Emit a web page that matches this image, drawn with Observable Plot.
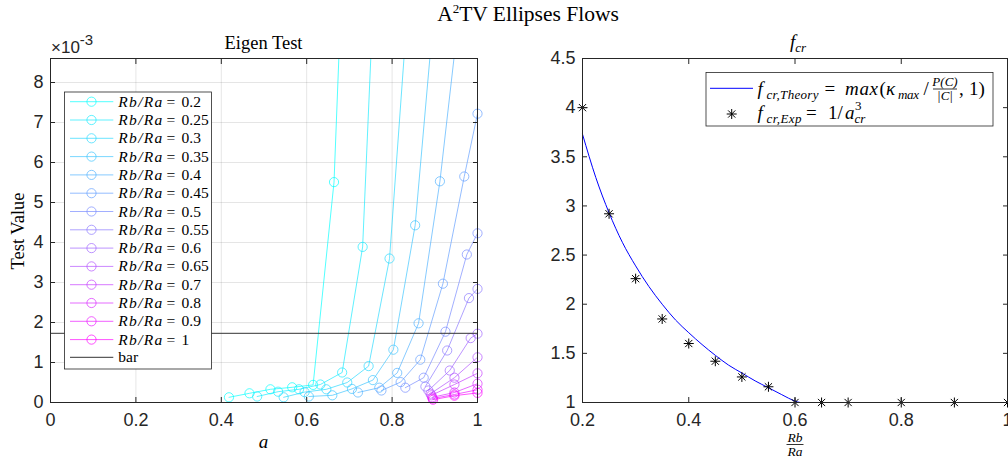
<!DOCTYPE html>
<html><head><meta charset="utf-8">
<script src="https://cdn.jsdelivr.net/npm/d3@7"></script>
<script src="https://cdn.jsdelivr.net/npm/@observablehq/plot@0.6"></script>
<style>
html,body{margin:0;padding:0;background:#fff;}
#fig{position:relative;width:1008px;height:463px;overflow:hidden;background:#fff;}
#fig > svg{position:absolute;top:0;}
#overlay{position:absolute;left:0;top:0;pointer-events:none;}
</style></head><body><div id="fig"></div>
<script>
// ---------- Left panel data (Eigen Test), values in units of 1e-3 ----------
const ratios = [0.2, 0.25, 0.3, 0.35, 0.4, 0.45, 0.5, 0.55, 0.6, 0.65, 0.7, 0.8, 0.9, 1];
const ratioLabels = ["0.2","0.25","0.3","0.35","0.4","0.45","0.5","0.55","0.6","0.65","0.7","0.8","0.9","1"];
const aValues = [
  [0.418, 0.466, 0.515, 0.566, 0.615, 0.664, 0.713],
  [0.484, 0.533, 0.582, 0.632, 0.683, 0.731, 0.780],
  [0.546, 0.595, 0.646, 0.695, 0.745, 0.794, 0.844],
  [0.605, 0.660, 0.706, 0.755, 0.803, 0.854, 0.904],
  [0.720, 0.770, 0.812, 0.862, 0.912, 0.962],
  [0.775, 0.820, 0.866, 0.919, 0.969, 1.000],
  [0.831, 0.874, 0.925, 0.975, 1.000],
  [0.878, 0.929, 0.980, 1.000],
  [0.885, 0.935, 0.984, 1.000],
  [0.890, 0.946, 1.000],
  [0.892, 0.946, 1.000],
  [0.894, 0.946, 1.000],
  [0.895, 0.946, 1.000],
  [0.896, 0.946, 1.000]
];
const testValuesE3 = [
  [0.13, 0.23, 0.33, 0.38, 0.44, 5.51, 19],
  [0.15, 0.27, 0.33, 0.45, 0.75, 3.89, 16],
  [0.13, 0.26, 0.33, 0.50, 0.91, 3.60, 11],
  [0.15, 0.18, 0.34, 0.56, 1.32, 4.43, 10.5],
  [0.25, 0.37, 0.74, 1.98, 5.53, 10.2],
  [0.30, 0.51, 1.07, 2.97, 5.65, 7.22],
  [0.37, 0.62, 1.77, 3.70, 4.23],
  [0.40, 1.30, 2.61, 2.84],
  [0.30, 0.80, 1.61, 1.72],
  [0.22, 0.62, 1.13],
  [0.18, 0.45, 0.73],
  [0.13, 0.25, 0.47],
  [0.10, 0.20, 0.32],
  [0.07, 0.17, 0.24]
];
const barValueE3 = 1.73;
const xTicksLeft = [0, 0.2, 0.4, 0.6, 0.8, 1];
const yTicksLeft = [0, 1, 2, 3, 4, 5, 6, 7, 8];

// ---------- Right panel data (f_cr) ----------
const rbRa = [0.2, 0.25, 0.3, 0.35, 0.4, 0.45, 0.5, 0.55, 0.6, 0.65, 0.7, 0.8, 0.9, 1];
const fExp = [4.0, 2.92, 2.26, 1.85, 1.60, 1.42, 1.26, 1.16, 1.0, 1.0, 1.0, 1.0, 1.0, 1.0];
const theoryRbRa = [0.2, 0.225, 0.25, 0.275, 0.3, 0.325, 0.35, 0.375, 0.4, 0.425, 0.45, 0.475, 0.5, 0.525, 0.55, 0.575, 0.6, 0.61, 0.7, 0.8, 0.9, 1];
const theoryF   = [3.73, 3.29, 2.93, 2.63, 2.39, 2.18, 2.00, 1.84, 1.71, 1.59, 1.48, 1.38, 1.30, 1.22, 1.15, 1.08, 1.015, 1.0, 1.0, 1.0, 1.0, 1.0];
const xTicksRight = [0.2, 0.4, 0.6, 0.8, 1];
const yTicksRight = [1, 1.5, 2, 2.5, 3, 3.5, 4, 4.5];

// ---------- styling ----------
const AX = "#262626";
const seriesColor = ratios.map((_, i) => {
  const t = i / (ratios.length - 1);
  return `rgb(${Math.round(255 * t)},${Math.round(255 * (1 - t))},255)`;
});
const SERIES_OPACITY = 0.68;
const fmt = d3.format("~g");
const plotStyle = {fontFamily: "'Liberation Sans', Arial, sans-serif", fontSize: "18px", color: AX, background: "none", overflow: "visible"};

const leftRows = ratios.flatMap((r, i) => aValues[i].map((a, j) => ({series: i, a, v: testValuesE3[i][j]})));

const left = Plot.plot({
  width: 500, height: 463,
  marginLeft: 50, marginRight: 23, marginTop: 58, marginBottom: 61,
  x: {domain: [0, 1]},
  y: {domain: [0, 8.6]},
  color: {type: "identity"},
  style: plotStyle,
  marks: [
    Plot.gridX(xTicksLeft, {stroke: "#000", strokeOpacity: 0.1}),
    Plot.gridY(yTicksLeft, {stroke: "#000", strokeOpacity: 0.1}),
    Plot.line(leftRows, {x: "a", y: "v", z: "series", stroke: d => seriesColor[d.series], strokeOpacity: SERIES_OPACITY, strokeWidth: 1, clip: true}),
    Plot.dot(leftRows, {x: "a", y: "v", r: 4.6, fill: "none", stroke: d => seriesColor[d.series], strokeOpacity: SERIES_OPACITY, strokeWidth: 1, filter: d => d.v <= 8.6}),
    Plot.ruleY([barValueE3], {stroke: "#333", strokeWidth: 1}),
    Plot.frame({stroke: AX, strokeWidth: 1}),
    Plot.axisX({ticks: xTicksLeft, anchor: "bottom", tickSize: 0, tickPadding: 11, tickFormat: fmt, label: null, fill: AX}),
    Plot.axisX({ticks: xTicksLeft, anchor: "bottom", tickSize: -5, tickFormat: () => "", label: null}),
    Plot.axisX({ticks: xTicksLeft, anchor: "top", tickSize: -5, tickFormat: () => "", label: null}),
    Plot.axisY({ticks: yTicksLeft, anchor: "left", tickSize: 0, tickPadding: 7, tickFormat: fmt, label: null, fill: AX}),
    Plot.axisY({ticks: yTicksLeft, anchor: "left", tickSize: -5, tickFormat: () => "", label: null}),
    Plot.axisY({ticks: yTicksLeft, anchor: "right", tickSize: -5, tickFormat: () => "", label: null})
  ]
});
left.style.left = "0px";

const asterisk = {
  draw(context, size) {
    const r = Math.sqrt(size / Math.PI);
    const d = r * 0.72;
    context.moveTo(0, -r); context.lineTo(0, r);
    context.moveTo(-r, 0); context.lineTo(r, 0);
    context.moveTo(-d, -d); context.lineTo(d, d);
    context.moveTo(-d, d); context.lineTo(d, -d);
  }
};

const expRows = rbRa.map((x, i) => ({x, f: fExp[i]}));
const theoryRows = theoryRbRa.map((x, i) => ({x, f: theoryF[i]}));

const right = Plot.plot({
  width: 508, height: 463,
  marginLeft: 82, marginRight: 1, marginTop: 58, marginBottom: 61,
  x: {domain: [0.2, 1]},
  y: {domain: [1, 4.5]},
  style: plotStyle,
  marks: [
    Plot.line(theoryRows, {x: "x", y: "f", stroke: "#0000ff", strokeWidth: 1, curve: "monotone-x"}),
    Plot.dot(expRows, {x: "x", y: "f", symbol: asterisk, r: 5, stroke: "#000", strokeWidth: 1, fill: "none"}),
    Plot.frame({stroke: AX, strokeWidth: 1}),
    Plot.axisX({ticks: xTicksRight, anchor: "bottom", tickSize: 0, tickPadding: 11, tickFormat: fmt, label: null, fill: AX}),
    Plot.axisX({ticks: xTicksRight, anchor: "bottom", tickSize: -5, tickFormat: () => "", label: null}),
    Plot.axisX({ticks: xTicksRight, anchor: "top", tickSize: -5, tickFormat: () => "", label: null}),
    Plot.axisY({ticks: yTicksRight, anchor: "left", tickSize: 0, tickPadding: 7, tickFormat: fmt, label: null, fill: AX}),
    Plot.axisY({ticks: yTicksRight, anchor: "left", tickSize: -5, tickFormat: () => "", label: null}),
    Plot.axisY({ticks: yTicksRight, anchor: "right", tickSize: -5, tickFormat: () => "", label: null})
  ]
});
right.style.left = "500px";

const fig = document.getElementById("fig");
fig.appendChild(left);
fig.appendChild(right);

// ---------- overlay: titles, labels, legends ----------
const SERIF = "'Liberation Serif', 'Times New Roman', serif";
const SANS = "'Liberation Sans', Arial, sans-serif";
let s = `<svg id="overlay" width="1008" height="463" xmlns="http://www.w3.org/2000/svg" font-family="${SERIF}" fill="#000">`;
// main title
s += `<text x="528" y="21" font-size="21.5" text-anchor="middle">A<tspan font-size="13" dy="-8">2</tspan><tspan dy="8">TV Ellipses Flows</tspan></text>`;
// left titles / labels
s += `<text x="263.5" y="49" font-size="18.5" text-anchor="middle">Eigen Test</text>`;
s += `<text x="51" y="53" font-family="${SANS}" font-size="17" fill="${AX}">×10<tspan font-size="15" dy="-8">-3</tspan></text>`;
s += `<text transform="translate(24,231) rotate(-90)" font-size="18.5" text-anchor="middle">Test Value</text>`;
s += `<text x="263.5" y="448" font-size="19" font-style="italic" text-anchor="middle">a</text>`;
// right titles / labels
s += `<text x="790" y="48" font-size="19" font-style="italic">f<tspan font-size="13" dy="4">cr</tspan></text>`;
s += `<text x="795" y="442" font-size="13.5" font-style="italic" text-anchor="middle">Rb</text>`;
s += `<line x1="786.5" x2="803.5" y1="444.5" y2="444.5" stroke="#000" stroke-width="0.8"/>`;
s += `<text x="795" y="456" font-size="13.5" font-style="italic" text-anchor="middle">Ra</text>`;

// left legend
s += `<rect x="64.5" y="92" width="147" height="277" fill="#fff" stroke="${AX}" stroke-width="0.8"/>`;
ratios.forEach((r, i) => {
  const cy = 101.7 + 18.3 * i;
  const c = seriesColor[i];
  s += `<line x1="70" x2="113.3" y1="${cy}" y2="${cy}" stroke="${c}" stroke-opacity="${SERIES_OPACITY}" stroke-width="1"/>`;
  s += `<circle cx="91.5" cy="${cy}" r="4.6" fill="none" stroke="${c}" stroke-opacity="${SERIES_OPACITY}" stroke-width="1"/>`;
  s += `<text x="118.3" y="${cy + 5}" font-size="15.5" font-style="italic" textLength="44" lengthAdjust="spacing">Rb/Ra</text>`;
  s += `<text x="166.5" y="${cy + 5}" font-size="15.5">=</text>`;
  s += `<text x="181.5" y="${cy + 5}" font-size="15.5">${ratioLabels[i]}</text>`;
});
{
  const cy = 357.3;
  s += `<line x1="70" x2="113.3" y1="${cy}" y2="${cy}" stroke="#333" stroke-width="1"/>`;
  s += `<text x="118.3" y="${cy + 5}" font-size="15.5">bar</text>`;
}

// right legend
s += `<rect x="706" y="72.5" width="287" height="53.5" fill="#fff" stroke="${AX}" stroke-width="0.8"/>`;
s += `<line x1="710" x2="753" y1="88.3" y2="88.3" stroke="#0000ff" stroke-width="1"/>`;
s += `<text x="757.5" y="95" font-size="19" font-style="italic">f</text>`;
s += `<text x="766.5" y="99" font-size="13" font-style="italic" textLength="52" lengthAdjust="spacing">cr,Theory</text>`;
s += `<text x="824.5" y="95" font-size="19">=</text>`;
s += `<text x="845" y="95" font-size="19" font-style="italic" textLength="33" lengthAdjust="spacing">max</text>`;
s += `<text x="879.5" y="95" font-size="19">(</text>`;
s += `<text x="886" y="95" font-size="19" font-style="italic">κ</text>`;
s += `<text x="898" y="98.5" font-size="13" font-style="italic" textLength="21" lengthAdjust="spacing">max</text>`;
s += `<text x="923.5" y="95" font-size="19">/</text>`;
s += `<text x="945" y="86" font-size="13" font-style="italic" text-anchor="middle">P(C)</text>`;
s += `<line x1="933" x2="957" y1="89" y2="89" stroke="#000" stroke-width="0.8"/>`;
s += `<text x="945" y="99.5" font-size="13" font-style="italic" text-anchor="middle">|C|</text>`;
s += `<text x="959" y="95" font-size="19">,</text>`;
s += `<text x="969" y="95" font-size="19">1)</text>`;
// row 2
s += `<g transform="translate(731.7,114)" stroke="#000" stroke-width="1"><line x1="0" y1="-5" x2="0" y2="5"/><line x1="-5" y1="0" x2="5" y2="0"/><line x1="-3.6" y1="-3.6" x2="3.6" y2="3.6"/><line x1="-3.6" y1="3.6" x2="3.6" y2="-3.6"/></g>`;
s += `<text x="757.5" y="119" font-size="19" font-style="italic">f</text>`;
s += `<text x="766.5" y="123" font-size="13" font-style="italic" textLength="35" lengthAdjust="spacing">cr,Exp</text>`;
s += `<text x="806" y="119" font-size="19">=</text>`;
s += `<text x="828" y="119" font-size="19">1/</text>`;
s += `<text x="845" y="119" font-size="19" font-style="italic">a</text>`;
s += `<text x="855" y="110" font-size="13">3</text>`;
s += `<text x="854.5" y="123" font-size="13" font-style="italic">cr</text>`;
s += `</svg>`;
fig.insertAdjacentHTML("beforeend", s);
</script>
</body></html>
